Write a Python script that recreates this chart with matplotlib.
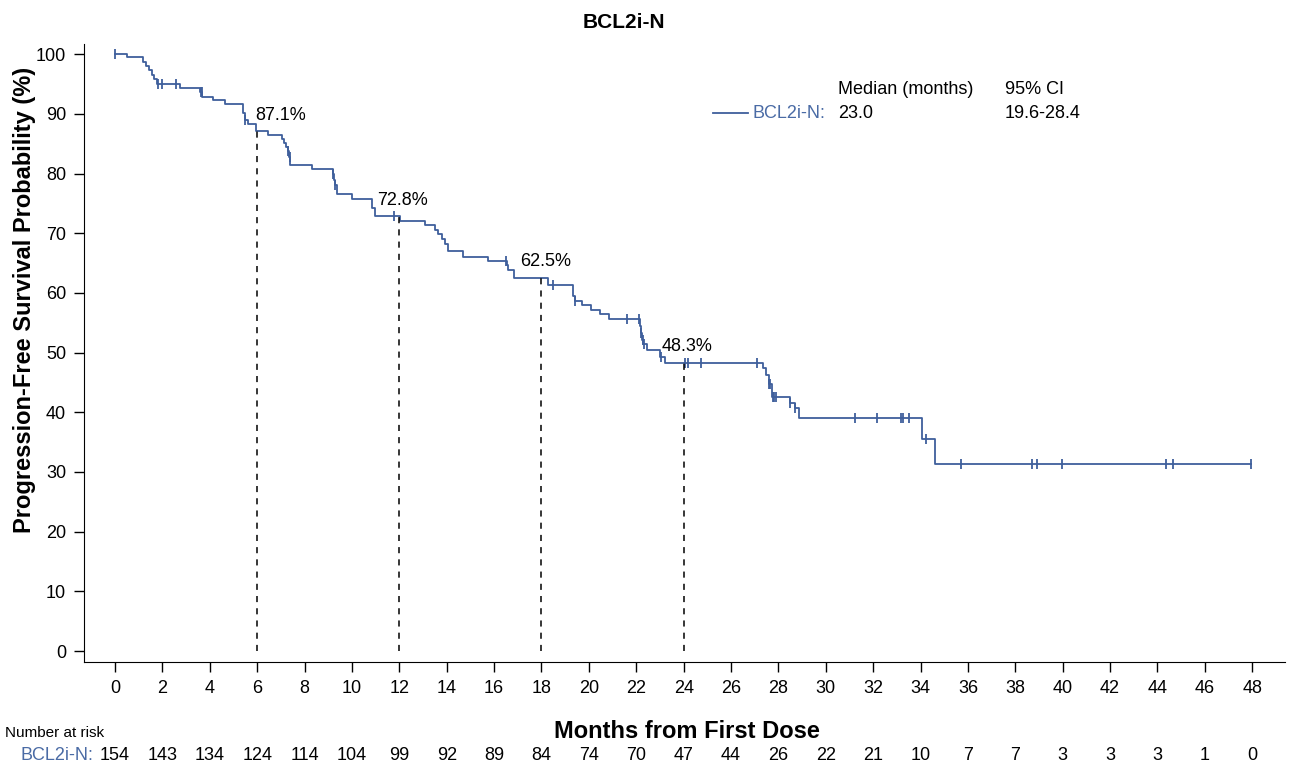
import numpy as np
import matplotlib.pyplot as plt

plt.rcParams['font.family'] = ['Liberation Sans', 'DejaVu Sans']

# Kaplan-Meier step curve (time in months, survival % after the step)
step_times = [0.0, 0.49, 1.17, 1.3, 1.45, 1.55, 1.65, 1.75, 2.74, 3.6, 3.68, 4.14, 4.64,
              5.4, 5.47, 5.6, 5.95, 6.46, 7.03, 7.12, 7.2, 7.28, 7.33, 7.39, 8.3,
              9.19, 9.25, 9.3, 9.38, 9.99, 10.83, 10.97, 12.03, 13.09, 13.51, 13.65,
              13.8, 13.93, 14.07, 14.7, 15.76, 16.53, 16.6, 16.86, 18.29, 19.35, 19.42,
              19.7, 20.1, 20.47, 20.86, 22.16, 22.2, 22.25, 22.3, 22.44, 23.0, 23.2,
              27.37, 27.48, 27.6, 27.75, 28.5, 28.7, 28.89, 34.05, 34.61]
step_surv = [100.0, 99.5, 98.7, 98.0, 97.3, 96.5, 95.8, 95.0, 94.3, 93.6, 92.9, 92.3, 91.6,
             90.2, 89.0, 88.3, 87.1, 86.5, 85.8, 85.1, 84.4, 83.7, 82.8, 81.4, 80.7,
             80.0, 79.0, 78.0, 76.6, 75.8, 74.3, 72.9, 72.0, 71.4, 70.5, 69.8,
             69.0, 68.2, 67.0, 66.1, 65.4, 64.6, 63.8, 62.5, 61.3, 59.5, 58.7,
             58.0, 57.2, 56.5, 55.6, 54.5, 53.2, 52.1, 51.5, 50.4, 49.3, 48.3,
             47.4, 46.2, 44.8, 42.6, 41.5, 40.8, 39.0, 35.5, 31.4]
last_time = 47.95

censor_times = [0.0, 1.83, 2.0, 2.57, 3.62, 3.65, 5.5, 7.3, 7.37, 9.22, 9.3, 11.78, 16.49,
                18.47, 19.42, 21.6, 22.13, 22.2, 22.27, 22.33, 23.05, 24.05, 24.2, 24.74,
                27.08, 27.6, 27.65, 27.76, 27.83, 27.9, 28.5, 28.7, 31.24, 32.15, 33.16,
                33.28, 33.5, 34.23, 35.7, 38.69, 38.9, 39.96, 44.36, 44.65, 47.95]

landmark_times = [6, 12, 18, 24]
landmark_surv = [87.1, 72.8, 62.5, 48.3]
landmark_labels = ['87.1%', '72.8%', '62.5%', '48.3%']

risk_times = list(range(0, 50, 2))
risk_counts = [154, 143, 134, 124, 114, 104, 99, 92, 89, 84, 74, 70, 47, 44, 26, 22, 21,
               10, 7, 7, 3, 3, 3, 1, 0]

group = 'BCL2i-N'
median_text = '23.0'
ci_text = '19.6-28.4'

line_color = '#3f5f9c'
text_blue = '#4a6ba5'
fs = 13

fig = plt.figure(figsize=(12.89, 7.67), dpi=100)
ax = fig.add_axes([0.0652, 0.1369, 0.9318, 0.8057])

xs = np.array(step_times + [last_time])
ys = np.array(step_surv + [step_surv[-1]])
ax.step(xs, ys, where='post', color=line_color, lw=1.3)

idx = np.searchsorted(step_times, censor_times, side='right') - 1
cens_y = np.array(step_surv)[idx]
ax.plot(censor_times, cens_y, ls='none', marker='|', ms=6.5, mew=1.3, color=line_color)

# landmark dashed lines and labels
label_dx = [-0.1, -0.95, -0.9, -0.92]
for t, s, lab, dx in zip(landmark_times, landmark_surv, landmark_labels, label_dx):
    ax.plot([t, t], [0, s], ls=(0, (4, 4)), color='black', lw=1.1)
    ax.text(t + dx, s + 2.7, lab, fontsize=fs, va='center', ha='left')

ax.set_xlim(-1.31, 49.39)
ax.set_ylim(-1.84, 101.7)
ax.set_xticks(risk_times)
ax.set_yticks(range(0, 101, 10))
ax.tick_params(labelsize=fs, length=7, width=1, pad=6)
for side in ['top', 'right']:
    ax.spines[side].set_visible(False)

# legend / summary block
ax.plot([25.24, 26.72], [90.1, 90.1], color=line_color, lw=1.3)
ax.text(30.0, 90.1, group + ':', color=text_blue, fontsize=fs, ha='right', va='center')
ax.text(30.52, 94.0, 'Median (months)', fontsize=fs, va='center')
ax.text(30.52, 90.1, median_text, fontsize=fs, va='center')
ax.text(37.57, 94.0, '95% CI', fontsize=fs, va='center')
ax.text(37.57, 90.1, ci_text, fontsize=fs, va='center')

fig.text(624 / 1289, 1 - 22 / 767, group, fontsize=15, fontweight='bold', ha='center', va='center')
fig.text(25 / 1289, 1 - 300 / 767, 'Progression-Free Survival Probability (%)', fontsize=17,
         fontweight='bold', rotation=90, ha='center', va='center')
fig.text(687 / 1289, 1 - 732 / 767, 'Months from First Dose', fontsize=17, fontweight='bold',
         ha='center', va='center')

# number at risk table
fig.text(5 / 1289, 1 - 733 / 767, 'Number at risk', fontsize=11, ha='left', va='center')
row_y = 1 - 755 / 767
tr = ax.transData
for t, n in zip(risk_times, risk_counts):
    xfig = fig.transFigure.inverted().transform(tr.transform((t, 0)))[0]
    fig.text(xfig, row_y, str(n), fontsize=fs, ha='center', va='center')
fig.text(93 / 1289, row_y, group + ':', color=text_blue, fontsize=fs, ha='right', va='center')

fig.savefig('out.png', dpi=100)
